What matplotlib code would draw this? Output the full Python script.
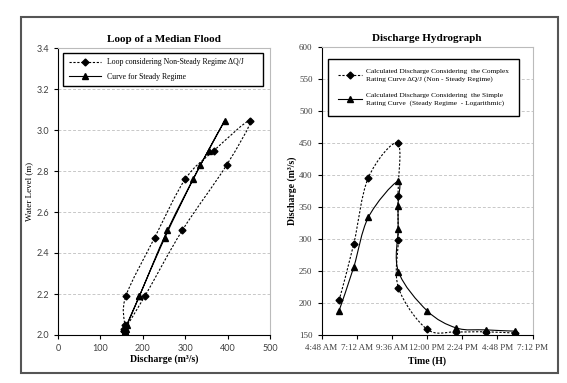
import numpy as np
import matplotlib
matplotlib.use("Agg")
import matplotlib.pyplot as plt
from matplotlib.path import Path
from matplotlib.patches import PathPatch, Rectangle
from matplotlib.lines import Line2D

# * Dados
# Loop (nivel x vazao)
nivel_loop = [2.02, 2.19, 2.51, 2.83, 3.045, 2.90, 2.76, 2.475, 2.19, 2.05, 2.03, 2.02]
vazao_loop_nao_perm = [155, 205, 293, 398, 453, 368, 300, 228, 160, 157, 156, 155]
vazao_loop_perm = [157, 192, 258, 336, 393, 355, 319, 252, 192, 162, 160, 158]

# Hidrograma
horarios = ["6:00", "7:00", "8:00", "10:00", "10:01", "10:02", "10:03",
            "12:00", "14:00", "16:00", "18:00"]
vazao_nao_perm = [204, 292, 396, 450, 367, 298, 224, 159, 155, 155, 153]
vazao_perm = [188, 256, 334, 390, 352, 316, 249, 188, 161, 158, 156]

rotulos_tempo = ["4:48 AM", "7:12 AM", "9:36 AM", "12:00 PM", "2:24 PM",
                 "4:48 PM", "7:12 PM"]

horas = [int(h.split(":")[0]) + int(h.split(":")[1]) / 60 for h in horarios]

SERIF = "Liberation Serif"


def caminho_suave(x, y):
    # . curva suavizada tipo Excel (Catmull-Rom em Bezier)
    pts = np.column_stack([x, y]).astype(float)
    verts = [pts[0]]
    codes = [Path.MOVETO]
    n = len(pts)
    for i in range(n - 1):
        p0 = pts[i - 1] if i > 0 else pts[i]
        p1 = pts[i]
        p2 = pts[i + 1]
        p3 = pts[i + 2] if i + 2 < n else pts[i + 1]
        verts += [p1 + (p2 - p0) / 6, p2 - (p3 - p1) / 6, p2]
        codes += [Path.CURVE4] * 3
    return Path(verts, codes)


TRACO = (0, (2.0, 1.5))


def serie(ax, x, y, estilo, marcador, ms):
    ls = TRACO if estilo == "--" else "-"
    ax.add_patch(PathPatch(caminho_suave(x, y), fill=False, edgecolor="black",
                           linewidth=0.8, linestyle=ls, zorder=3))
    ax.plot(x, y, linestyle="none", marker=marcador, markersize=ms,
            color="black", zorder=4)


fig = plt.figure(figsize=(5.67, 3.83), dpi=100)
fig.patches.append(Rectangle((21 / 567, 1 - 373 / 383), 537 / 567, 356 / 383,
                             transform=fig.transFigure, fill=False,
                             edgecolor="#555555", linewidth=1.5))

h1 = [Line2D([], [], color="black", lw=0.8, ls=TRACO, marker="D", ms=3.5),
      Line2D([], [], color="black", lw=0.8, marker="^", ms=4.5)]

# ! Grafico da esquerda - loop
ax1 = fig.add_axes([58 / 567, 48 / 383, 212 / 567, 287 / 383])
serie(ax1, vazao_loop_nao_perm, nivel_loop, "--", "D", 3.5)
serie(ax1, vazao_loop_perm, nivel_loop, "-", "^", 4.5)
ax1.set_xlim(0, 500)
ax1.set_ylim(2.0, 3.4)
ax1.set_xticks(range(0, 501, 100))
ax1.set_yticks(np.arange(2.0, 3.41, 0.2))
ax1.yaxis.set_major_formatter(plt.FormatStrFormatter("%.1f"))
for v in np.arange(2.2, 3.21, 0.2):
    ax1.axhline(v, color="#c8c8c8", linestyle=(0, (3, 2)), linewidth=0.7, zorder=1)
ax1.tick_params(labelsize=6.5, labelcolor="#404040", length=3, width=0.8)
for lab in ax1.get_xticklabels() + ax1.get_yticklabels():
    lab.set_family("Lato")
for s in ["top", "right"]:
    ax1.spines[s].set_color("#bbbbbb")
ax1.set_title("Loop of a Median Flood", fontsize=8, fontweight="bold",
              family=SERIF, pad=4)
ax1.set_xlabel("Discharge (m³/s)", fontsize=7, fontweight="bold", family=SERIF,
               labelpad=1)
ax1.set_ylabel("Water Level (m)", fontsize=6.5, family=SERIF)
ax1.yaxis.set_label_coords(-0.116, 0.5)
leg1 = ax1.legend(h1, ["Loop considering Non-Steady Regime ΔQ/J",
                       "Curve for Steady Regime"],
                  loc="upper left", bbox_to_anchor=(0.024, 0.983, 0.943, 0),
                  mode="expand", borderaxespad=0,
                  prop={"family": SERIF, "size": 5.6}, fancybox=False,
                  edgecolor="black", framealpha=1, handlelength=4.2,
                  borderpad=0.7, labelspacing=0.8)
leg1.get_frame().set_linewidth(1.0)

# ! Grafico da direita - hidrograma
ax2 = fig.add_axes([321.5 / 567, 48 / 383, 211 / 567, 288 / 383])
serie(ax2, horas, vazao_nao_perm, "--", "D", 3.5)
serie(ax2, horas, vazao_perm, "-", "^", 4.5)
ax2.set_xlim(4.8, 19.2)
ax2.set_ylim(150, 600)
ax2.set_xticks(np.arange(4.8, 19.21, 2.4))
ax2.set_xticklabels(rotulos_tempo)
ax2.set_yticks(range(150, 601, 50))
for v in range(200, 601, 50):
    ax2.axhline(v, color="#c8c8c8", linestyle=(0, (3, 2)), linewidth=0.7, zorder=1)
ax2.tick_params(labelsize=6.5, labelcolor="#404040", length=3, width=0.8)
for lab in ax2.get_xticklabels() + ax2.get_yticklabels():
    lab.set_family(SERIF)
for s in ["top", "right"]:
    ax2.spines[s].set_color("#bbbbbb")
ax2.set_title("Discharge Hydrograph", fontsize=8, fontweight="bold",
              family=SERIF, pad=4)
ax2.set_xlabel("Time (H)", fontsize=7, fontweight="bold", family=SERIF, labelpad=3)
ax2.set_ylabel("Discharge (m³/s)", fontsize=7, fontweight="bold", family=SERIF)
ax2.yaxis.set_label_coords(-0.116, 0.5)
leg2 = ax2.legend(h1, ["Calculated Discharge Considering  the Complex\n"
                       "Rating Curve ΔQ/J (Non - Steady Regime)",
                       "Calculated Discharge Considering  the Simple\n"
                       "Rating Curve  (Steady Regime  - Logarithmic)"],
                  loc="upper left", bbox_to_anchor=(0.031, 0.958),
                  borderaxespad=0,
                  prop={"family": SERIF, "size": 5.3}, fancybox=False,
                  edgecolor="black", framealpha=1, handlelength=3.3,
                  borderpad=1.3, labelspacing=1.6, handletextpad=0.6)
for t in leg2.get_texts():
    t.set_linespacing(1.5)
leg2.get_frame().set_linewidth(1.0)

fig.savefig("out.png", dpi=100)
